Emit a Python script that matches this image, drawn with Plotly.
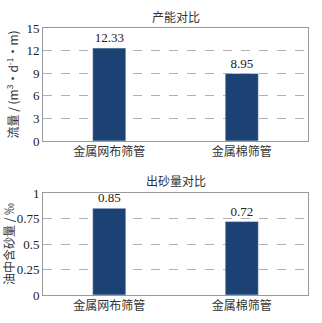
import plotly.graph_objects as go
from plotly.subplots import make_subplots

categories = ["金属网布筛管", "金属棉筛管"]
capacity = [12.33, 8.95]
sand = [0.85, 0.72]
cap_ticks = [0, 3, 6, 9, 12, 15]
sand_ticks = [0, 0.25, 0.5, 0.75, 1]
sand_tick_text = ["0", "0.25", "0.5", "0.75", "1"]

bar_color = "#1c4273"
num_font = "Liberation Serif"
cjk_font = "Noto Sans CJK SC"

fig = make_subplots(rows=2, cols=1)

fig.add_trace(go.Bar(x=categories, y=capacity, marker_color=bar_color,
                     text=[f"{v:.2f}" for v in capacity], textposition="outside",
                     textfont=dict(family=num_font, size=13, color="#222"),
                     cliponaxis=False, width=0.25), row=1, col=1)
fig.add_trace(go.Bar(x=categories, y=sand, marker_color=bar_color,
                     text=[f"{v:.2f}" for v in sand], textposition="outside",
                     textfont=dict(family=num_font, size=13, color="#222"),
                     cliponaxis=False, width=0.25), row=2, col=1)

axis_common = dict(showline=True, linecolor="#9a9a9a", linewidth=1, mirror=True,
                   ticks="", zeroline=False, automargin=False)

fig.update_xaxes(tickfont=dict(family=cjk_font, size=12, color="#333"),
                 showgrid=False, **axis_common)
fig.update_yaxes(showgrid=True, gridcolor="#b0b0b0", griddash="dash", gridwidth=1,
                 tickfont=dict(family=num_font, size=13, color="#222"), **axis_common)

fig.update_layout(
    xaxis=dict(domain=[0, 1]),
    yaxis=dict(domain=[0.577, 1], range=[0, 15], tickvals=cap_ticks,
               title=dict(text="流量 / (m<sup>3</sup>·d<sup>-1</sup>·m)",
                          font=dict(family=cjk_font, size=12, color="#333"), standoff=5)),
    xaxis2=dict(domain=[0, 1]),
    yaxis2=dict(domain=[0, 0.382], range=[0, 1], tickvals=sand_ticks, ticktext=sand_tick_text,
                title=dict(text="油中含砂量 / ‰",
                           font=dict(family=cjk_font, size=12, color="#333"), standoff=5)),
    width=322, height=323,
    margin=dict(l=43, r=14, t=28, b=28),
    plot_bgcolor="white", paper_bgcolor="white",
    showlegend=False,
    bargap=0.75,
    annotations=[
        dict(text="产能对比", xref="paper", yref="paper", x=0.5, y=1, yshift=12,
             yanchor="middle", showarrow=False,
             font=dict(family=cjk_font, size=12, color="#333")),
        dict(text="出砂量对比", xref="paper", yref="paper", x=0.5, y=0.382, yshift=13,
             yanchor="middle", showarrow=False,
             font=dict(family=cjk_font, size=12, color="#333")),
    ],
)

fig.write_html("out.html", config={"displayModeBar": False},
               post_script="document.body.style.margin='0';")
